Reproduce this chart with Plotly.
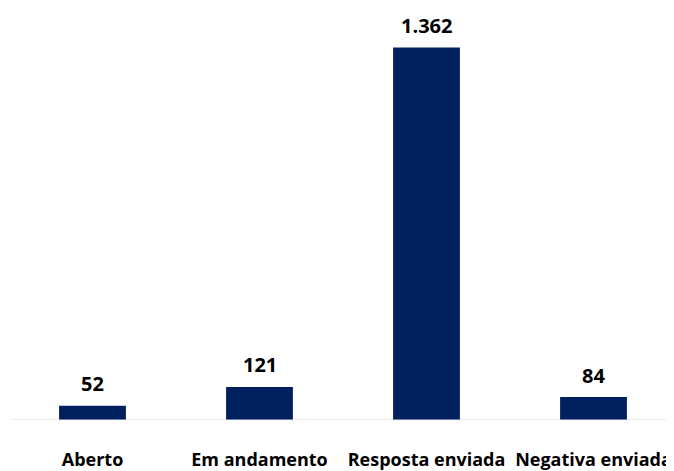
import plotly.graph_objects as go

categories = ["Aberto", "Em andamento", "Resposta enviada", "Negativa enviada"]
values = [52, 121, 1362, 84]

BAR = "#002060"
FONT = "Open Sans"

fig = go.Figure(go.Bar(
    x=categories, y=values, marker=dict(color=BAR, line=dict(width=0)),
    width=0.4, hoverinfo="skip",
))

for c, v in zip(categories, values):
    fig.add_annotation(
        x=c, y=v, text=f"<b>{v:,}</b>".replace(",", "."), showarrow=False,
        yanchor="middle", yshift=22,
        font=dict(family=FONT, size=20, color="#000000"),
    )

fig.add_shape(type="line", xref="x", yref="y", x0=-0.494, x1=3.6, y0=0, y1=0,
              line=dict(color="#d9d9d9", width=1))

# page body has an 8px margin, so figure is 8px smaller than the window
fig.update_layout(
    width=666, height=463,
    margin=dict(l=0, r=0, t=0, b=45),
    paper_bgcolor="white", plot_bgcolor="white",
    showlegend=False,
    xaxis=dict(
        range=[-0.506, 3.482], showline=False, showgrid=False, zeroline=False,
        ticks="outside", ticklen=23, tickcolor="rgba(0,0,0,0)",
        tickfont=dict(family=FONT, size=18, color="#000000"),
        tickvals=categories, ticktext=[f"<b>{c}</b>" for c in categories],
    ),
    yaxis=dict(range=[0, 1506], visible=False, showgrid=False, zeroline=False),
)

fig.write_html("out.html")
